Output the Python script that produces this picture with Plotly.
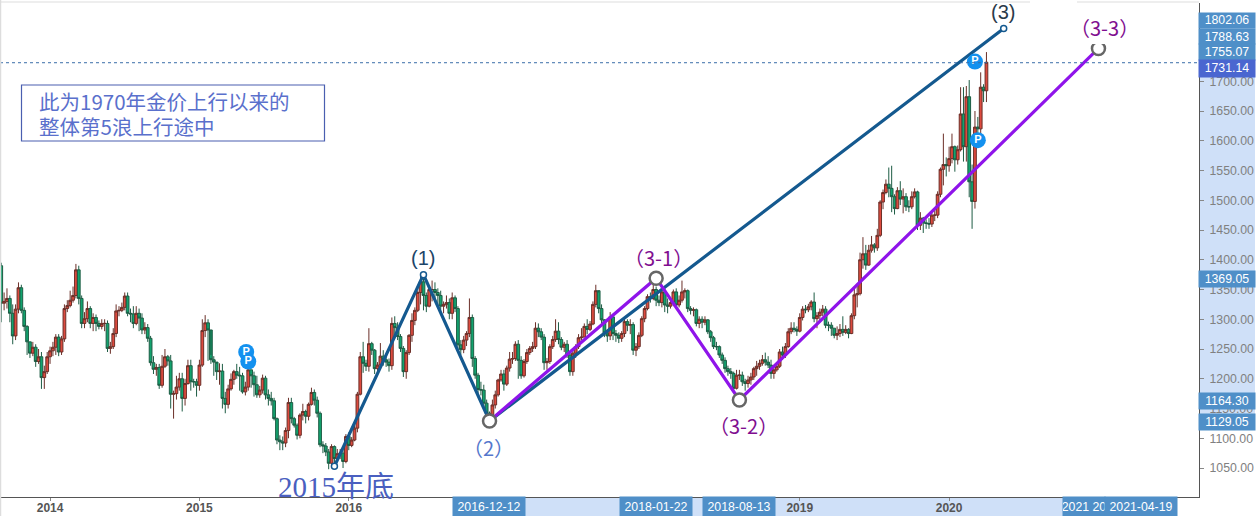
import pandas as pd
import plotly.graph_objects as go

first_open = 1390
closes = [
1327,1330,1335,1310,1272,1317,1353,1315,1288,1262,
1243,1253,1229,1237,1202,1212,1237,1247,1253,1270,
1245,1267,1318,1323,1332,1340,1383,1335,1293,1301,
1318,1293,1303,1293,1288,1293,1293,1251,1254,1276,
1314,1315,1320,1339,1310,1309,1293,1310,1302,1282,
1286,1268,1227,1216,1219,1189,1221,1237,1230,1174,
1175,1186,1200,1167,1192,1222,1195,1195,1189,1223,
1281,1294,1282,1232,1228,1212,1213,1167,1157,1183,
1199,1212,1206,1205,1178,1186,1215,1205,1190,1173,
1181,1201,1173,1167,1163,1133,1097,1094,1092,1113,
1160,1133,1122,1105,1139,1145,1137,1157,1177,1164,
1142,1089,1087,1077,1058,1086,1066,1074,1075,1061,
1103,1088,1097,1117,1174,1237,1226,1221,1259,1248,
1217,1223,1238,1232,1228,1222,1293,1286,1271,1251,
1212,1244,1273,1298,1315,1345,1363,1340,1322,1350,
1350,1345,1340,1322,1325,1328,1310,1336,1318,1257,
1249,1265,1276,1303,1234,1206,1182,1181,1159,1142,
1137,1156,1173,1198,1208,1191,1218,1233,1234,1258,
1231,1205,1229,1244,1251,1254,1285,1279,1270,1227,
1229,1254,1266,1280,1266,1253,1258,1240,1212,1243,
1254,1269,1270,1288,1283,1292,1325,1348,1318,1299,
1277,1272,1304,1276,1273,1268,1276,1296,1290,1291,
1248,1254,1273,1301,1318,1338,1335,1350,1332,1328,
1346,1324,1322,1328,1346,1324,1332,1346,1348,1318,
1315,1316,1293,1300,1295,1299,1279,1269,1254,1254,
1240,1231,1217,1212,1209,1184,1206,1206,1195,1192,
1198,1203,1217,1221,1226,1232,1228,1223,1209,1215,
1221,1245,1240,1254,1279,1285,1283,1280,1303,1317,
1316,1321,1329,1301,1306,1312,1317,1290,1290,1285,
1273,1276,1283,1278,1283,1276,1306,1341,1343,1400,
1410,1391,1416,1425,1420,1441,1497,1513,1527,1520,
1506,1486,1516,1502,1506,1489,1489,1506,1514,1458,
1470,1462,1461,1460,1475,1475,1510,1552,1560,1558,
1570,1590,1568,1585,1645,1590,1674,1531,1498,1623,
1620,1690,1684,1732]
highs = [
1395,1345,1352,1340,1325,1325,1362,1358,1320,1290,
1262,1262,1258,1250,1245,1222,1245,1254,1262,1275,
1275,1272,1325,1332,1348,1355,1393,1390,1340,1312,
1330,1322,1310,1308,1298,1300,1300,1298,1262,1285,
1325,1322,1328,1345,1345,1318,1322,1322,1318,1310,
1295,1292,1272,1238,1225,1225,1240,1250,1240,1240,
1180,1205,1210,1210,1200,1232,1232,1200,1200,1232,
1300,1307,1300,1240,1238,1225,1226,1225,1178,1190,
1209,1215,1225,1220,1210,1195,1225,1215,1212,1205,
1188,1207,1205,1182,1178,1168,1135,1105,1103,1118,
1168,1168,1136,1125,1142,1158,1148,1160,1185,1182,
1170,1145,1095,1092,1082,1090,1088,1082,1082,1080,
1107,1110,1102,1122,1178,1245,1262,1232,1285,1262,
1250,1228,1260,1248,1240,1234,1303,1305,1295,1275,
1255,1248,1275,1310,1320,1348,1375,1368,1345,1355,
1365,1362,1352,1348,1330,1340,1335,1345,1340,1322,
1265,1272,1280,1335,1308,1238,1210,1195,1190,1165,
1145,1165,1180,1200,1215,1215,1222,1245,1245,1263,
1265,1238,1233,1250,1255,1262,1295,1293,1285,1275,
1235,1258,1272,1300,1295,1270,1262,1265,1245,1250,
1258,1275,1285,1293,1300,1297,1330,1358,1345,1325,
1300,1282,1312,1308,1282,1278,1280,1300,1300,1300,
1295,1260,1278,1305,1322,1342,1345,1358,1355,1340,
1350,1352,1335,1336,1350,1352,1340,1365,1352,1350,
1322,1320,1318,1305,1305,1305,1300,1282,1272,1262,
1256,1244,1236,1222,1218,1212,1215,1215,1212,1200,
1205,1210,1220,1230,1232,1240,1244,1238,1232,1222,
1228,1250,1254,1260,1285,1295,1295,1288,1310,1322,
1324,1326,1332,1345,1312,1318,1324,1322,1296,1295,
1285,1288,1292,1305,1290,1285,1310,1352,1360,1412,
1438,1425,1425,1440,1428,1452,1500,1518,1535,1555,
1558,1510,1522,1532,1520,1512,1500,1515,1520,1516,
1480,1472,1468,1470,1480,1485,1515,1555,1612,1572,
1590,1612,1592,1592,1690,1690,1692,1702,1560,1650,
1640,1715,1695,1749]
lows = [
1295,1315,1318,1295,1258,1265,1310,1310,1280,1240,
1235,1238,1220,1225,1183,1183,1208,1225,1238,1240,
1238,1240,1262,1312,1320,1328,1335,1325,1285,1285,
1295,1285,1280,1280,1283,1283,1280,1245,1242,1250,
1270,1305,1312,1315,1305,1295,1285,1290,1280,1275,
1275,1262,1222,1208,1205,1183,1185,1218,1222,1150,
1133,1165,1180,1145,1155,1190,1180,1185,1170,1180,
1220,1270,1230,1225,1205,1198,1190,1150,1142,1150,
1180,1190,1200,1180,1175,1172,1180,1185,1170,1168,
1168,1175,1165,1155,1155,1130,1090,1080,1080,1085,
1100,1125,1118,1098,1100,1130,1125,1130,1155,1155,
1135,1085,1075,1070,1048,1050,1058,1062,1065,1050,
1058,1080,1085,1095,1110,1172,1210,1213,1212,1240,
1208,1212,1218,1222,1220,1212,1215,1268,1265,1245,
1203,1200,1240,1262,1290,1312,1325,1315,1312,1320,
1330,1330,1320,1312,1310,1318,1300,1300,1312,1250,
1240,1243,1255,1270,1220,1200,1175,1172,1150,1128,
1122,1130,1150,1170,1195,1180,1188,1212,1225,1230,
1200,1200,1202,1225,1240,1245,1250,1270,1265,1215,
1215,1225,1250,1262,1258,1248,1245,1235,1205,1205,
1235,1250,1265,1270,1275,1280,1290,1320,1310,1290,
1270,1262,1265,1265,1262,1260,1262,1270,1280,1275,
1240,1238,1250,1270,1295,1315,1328,1332,1322,1322,
1320,1312,1310,1318,1322,1318,1320,1328,1335,1312,
1308,1305,1288,1285,1285,1290,1275,1262,1250,1248,
1235,1225,1210,1205,1200,1180,1182,1198,1188,1180,
1185,1190,1198,1205,1215,1222,1222,1218,1200,1200,
1212,1218,1232,1235,1252,1275,1278,1272,1278,1298,
1310,1312,1315,1295,1285,1295,1305,1285,1280,1272,
1268,1265,1270,1272,1275,1268,1275,1300,1320,1340,
1385,1383,1390,1412,1412,1415,1438,1485,1510,1505,
1480,1476,1485,1492,1478,1482,1480,1485,1503,1450,
1450,1445,1452,1452,1455,1465,1470,1505,1525,1540,
1548,1562,1548,1560,1582,1565,1565,1505,1452,1486,
1590,1605,1665,1665]
opens = [first_open] + closes[:-1]
dates = pd.date_range("2013-09-09", periods=len(closes), freq="7D")

blue_dates = ["2015-11-30", "2016-07-04", "2016-12-12", "2020-05-18"]
blue_vals = [1053, 1375, 1129.05, 1788.63]
purple_dates = ["2016-12-12", "2018-01-22", "2018-08-13", "2021-01-04"]
purple_vals = [1129.05, 1369.05, 1164.30, 1755.07]
p_dates = ["2015-04-29", "2015-05-04", "2020-03-09", "2020-03-16"]
p_vals = [1245, 1229, 1733, 1601]
price_ticks = [1050, 1100, 1150, 1200, 1250, 1300, 1350, 1400, 1450, 1500, 1550, 1600, 1650, 1700]
year_ticks = ["2014-01-06", "2015-01-05", "2016-01-04", "2019-01-07", "2020-01-06"]
year_labels = ["2014", "2015", "2016", "2019", "2020"]
mark_ticks = ["2016-12-12", "2018-01-22", "2018-08-13", "2021-04-19"]
last_price = 1731.14

W, H = 1258, 516
L, R, T, B = 0, 1199, 3, 497
pw, ph = R - L, B - T
def px(x): return (x - L) / pw
def py(y): return (B - y) / ph

SANS = "Liberation Sans, Arial, sans-serif"
CJK = "Noto Sans CJK SC, sans-serif"
SERIF = "Liberation Serif, Noto Sans CJK SC, serif"

fig = go.Figure()
fig.add_trace(go.Candlestick(
    x=dates, open=opens, high=highs, low=lows, close=closes,
    increasing=dict(line=dict(color="#6b2f28", width=1), fillcolor="#dd4a3e"),
    decreasing=dict(line=dict(color="#1d5c44", width=1), fillcolor="#12a36e"),
    showlegend=False, hoverinfo="skip"))
fig.add_trace(go.Scatter(x=blue_dates, y=blue_vals, mode="lines",
    line=dict(color="#14598f", width=3.2), showlegend=False, hoverinfo="skip"))
fig.add_trace(go.Scatter(x=purple_dates, y=purple_vals, mode="lines",
    line=dict(color="#8f14ea", width=3.2), showlegend=False, hoverinfo="skip"))
fig.add_trace(go.Scatter(x=[blue_dates[0], blue_dates[1], blue_dates[3]],
    y=[blue_vals[0], blue_vals[1], blue_vals[3]], mode="markers",
    marker=dict(size=6, color="white", line=dict(color="#14598f", width=1.5)),
    showlegend=False, hoverinfo="skip"))
fig.add_trace(go.Scatter(x=purple_dates, y=purple_vals, mode="markers",
    marker=dict(size=13, color="white", line=dict(color="#666666", width=2.5)),
    showlegend=False, hoverinfo="skip", cliponaxis=False))
fig.add_trace(go.Scatter(x=p_dates, y=p_vals, mode="markers+text", text=["P"] * 4,
    textposition="middle center", textfont=dict(color="white", size=11, family=SANS, weight="bold"),
    marker=dict(size=16, color="#1391ef"), showlegend=False, hoverinfo="skip"))

shapes = [
    dict(type="rect", xref="paper", yref="paper", x0=px(1199), x1=px(1255), y0=py(430), y1=py(13),
         fillcolor="#cfe0f8", line_width=0, layer="below"),
    dict(type="rect", xref="paper", yref="paper", x0=px(453), x1=px(1177), y0=py(516), y1=py(497),
         fillcolor="#cfe0f8", line_width=0, layer="below"),
    dict(type="rect", xref="paper", yref="paper", x0=px(1085), x1=px(1112), y0=py(44), y1=py(36),
         fillcolor="white", line_width=0, layer="above"),
    dict(type="line", xref="paper", yref="y", x0=0, x1=1, y0=last_price, y1=last_price,
         line=dict(color="#3a6ea8", width=1, dash="dot"), layer="above"),
    dict(type="line", xref="paper", yref="paper", x0=px(0), x1=px(1030), y0=py(2), y1=py(2),
         line=dict(color="#dddddd", width=1)),
    dict(type="line", xref="paper", yref="paper", x0=px(1077), x1=px(1199), y0=py(2), y1=py(2),
         line=dict(color="#dddddd", width=1)),
    dict(type="line", xref="paper", yref="paper", x0=px(0.5), x1=px(0.5), y0=py(516), y1=py(0),
         line=dict(color="#dddddd", width=1.5)),
    dict(type="rect", xref="paper", yref="paper", x0=px(21.5), x1=px(324.5), y0=py(141), y1=py(85),
         line=dict(color="#4a5fb0", width=1.2), fillcolor="rgba(0,0,0,0)", layer="above"),
]

ann = []
def label(text, cx, cy, size, color, family=SANS, **kw):
    ann.append(dict(text=text, xref="paper", yref="paper", x=px(cx), y=py(cy), showarrow=False,
                    xanchor=kw.pop("xanchor", "center"), yanchor="middle",
                    font=dict(size=size, color=color, family=family), **kw))

label("(1)", 423, 258, 20, "#1c4468")
label("(3)", 1003, 12, 20, "#2a3a4a")
label("（2）", 488, 447, 20, "#5577cc", CJK)
label("（3-1）", 658, 257, 20, "#800e90", CJK)
label("（3-2）", 743, 425, 20, "#800e90", CJK)
label("（3-3）", 1104, 28, 20, "#800e90", CJK)
label("2015年底", 336, 487, 29, "#4a5fc0", SERIF)
label("此为1970年金价上行以来的", 37, 101, 20.5, "#5a70cc", CJK, xanchor="left")
label("整体第5浪上行途中", 37, 126, 20.5, "#5a70cc", CJK, xanchor="left")

def box(text, x0, x1, y0, y1, color="#4f8fc8"):
    ann.append(dict(text=text, xref="paper", yref="paper", x=px((x0 + x1) / 2), y=py((y0 + y1) / 2),
                    showarrow=False, xanchor="center", yanchor="middle", width=x1 - x0, height=y1 - y0,
                    bgcolor=color, borderpad=0, align="center", valign="middle",
                    font=dict(size=12.3, color="white", family=SANS)))

for t, a, b in [("1802.06", 13, 27.5), ("1788.63", 28.5, 43.5), ("1755.07", 44.5, 60),
                ("1369.05", 271, 287), ("1164.30", 393, 409), ("1129.05", 414, 430)]:
    box(t, 1199, 1255, a, b)
box(f"{last_price:.2f}", 1199, 1255, 60.5, 77, "#4a66d0")
for t, a, b in [("2016-12-12", 453, 525), ("2018-01-22", 620, 692), ("2018-08-13", 703, 775),
                ("2021 20", 1063, 1105), ("2021-04-19", 1105, 1177)]:
    box(t, a, b, 497, 516)

all_ticks = year_ticks + mark_ticks
all_text = year_labels + [""] * len(mark_ticks)
fig.update_layout(
    width=W, height=H, margin=dict(l=L, r=W - R, t=T, b=H - B, autoexpand=False),
    paper_bgcolor="white", plot_bgcolor="white", showlegend=False,
    shapes=shapes, annotations=ann, dragmode=False, boxgap=0, boxgroupgap=0.05,
    xaxis=dict(type="date", range=["2013-09-06", "2021-09-06"], rangeslider=dict(visible=False),
               automargin=False, showgrid=False, zeroline=False, showline=True, linecolor="#555555", linewidth=1,
               tickmode="array", tickvals=all_ticks, ticktext=all_text, ticks="outside", ticklen=3,
               ticklabelstandoff=-3,
               tickcolor="#888888", tickfont=dict(size=12, color="#555555", family=SANS, weight="bold")),
    yaxis=dict(side="right", range=[1001.3, 1831.5], automargin=False, showgrid=False, zeroline=False, showline=True,
               linecolor="#555555", linewidth=1, tickmode="array", tickvals=price_ticks,
               ticktext=[f"{v:.2f}" for v in price_ticks], ticks="outside", ticklen=4,
               tickcolor="#888888", tickfont=dict(size=12.3, color="#808080", family=SANS),
               ticklabelstandoff=3),
)
fig.write_html("out.html", config=dict(displayModeBar=False),
               post_script="document.body.style.margin='0';document.documentElement.style.overflow='hidden';")
